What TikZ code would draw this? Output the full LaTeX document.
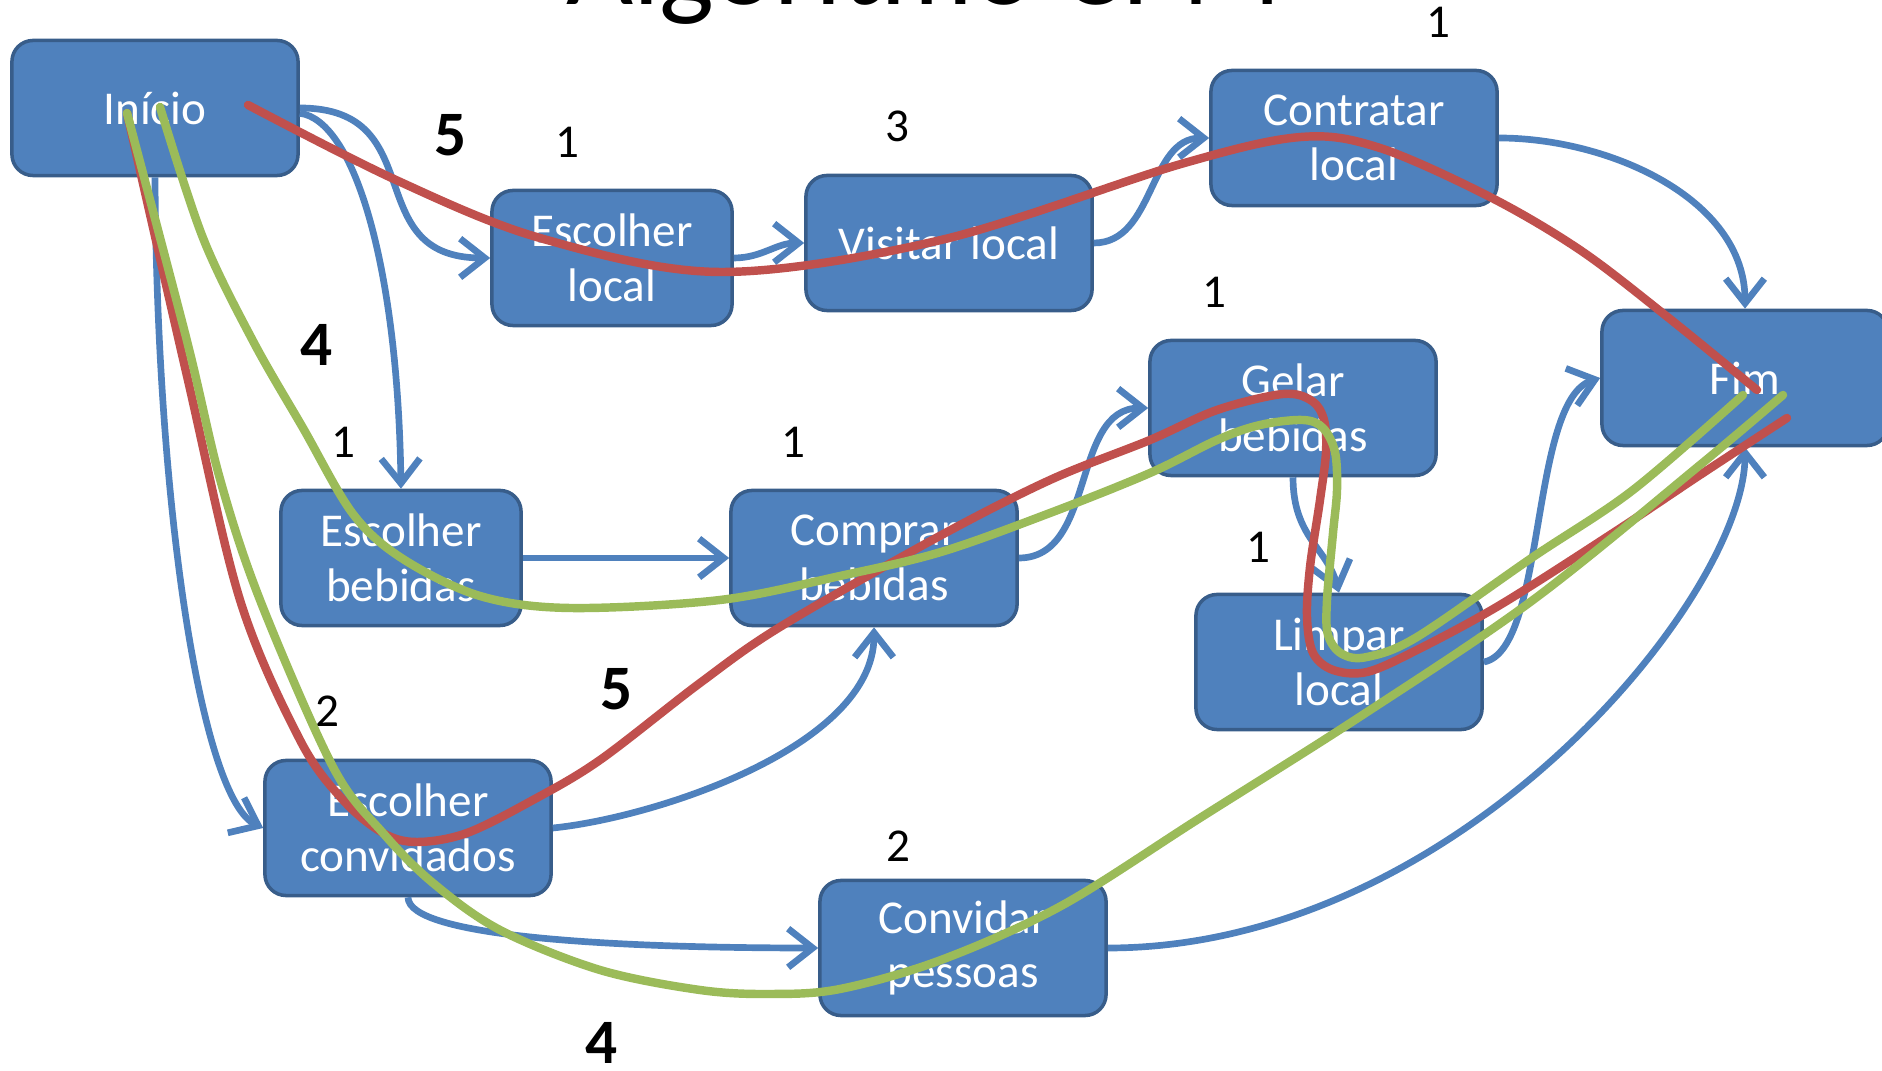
\documentclass[tikz,border=0pt]{standalone}
\usepackage{fontspec}
\setmainfont{Carlito}
\usetikzlibrary{arrows.meta}
\definecolor{azul}{HTML}{4F81BD}
\definecolor{azulEscuro}{HTML}{385D8A}
\definecolor{vermelho}{HTML}{C0504D}
\definecolor{verde}{HTML}{9BBB59}

\begin{document}
\begin{tikzpicture}[x=0.01cm, y=0.01cm,
    tarefa/.style={rounded corners=6pt, draw=azulEscuro, line width=1pt, fill=azul, text=white, align=center,
                   minimum width=2.86cm, minimum height=1.35cm, inner sep=0pt, font=\fontsize{13.4}{15.6}\selectfont},
    estreita/.style={tarefa, minimum width=2.4cm},
    seta/.style={draw=azul, line width=1.9pt, -{Straight Barb[length=7pt,width=11pt]}},
    caminho/.style={line width=2.4pt, line cap=round},
    peso/.style={inner sep=0pt, font=\fontsize{13.4}{16}\selectfont},
    total/.style={inner sep=0pt, font=\fontsize{18}{21}\selectfont\bfseries}]
        \useasboundingbox (0,0) rectangle (1882,-1071);
        \node (titulo) at (924,-5) [anchor=base, font=\fontsize{33}{38}\selectfont] {Algoritmo CPM};

        \node (I)  at ( 155,-108) [tarefa]   {Início};
        \node (EL) at ( 612,-258) [estreita] {Escolher\\local};
        \node (VL) at ( 949,-243) [tarefa]   {Visitar local};
        \node (CL) at (1354,-138) [tarefa]   {Contratar\\local};
        \node (F)  at (1745,-378) [tarefa]   {Fim};
        \node (EB) at ( 401,-558) [estreita] {Escolher\\bebidas};
        \node (CB) at ( 874,-558) [tarefa]   {Comprar\\bebidas};
        \node (GB) at (1293,-408) [tarefa]   {Gelar\\bebidas};
        \node (LL) at (1339,-662) [tarefa]   {Limpar\\local};
        \node (EC) at ( 408,-828) [tarefa]   {Escolher\\convidados};
        \node (CP) at ( 963,-948) [tarefa]   {Convidar\\pessoas};

        % duracoes
        \node (dEL) at ( 567,-142) [peso] {1};
        \node (dVL) at ( 897,-126) [peso] {3};
        \node (dCL) at (1438, -22) [peso] {1};
        \node (dEB) at ( 343,-442) [peso] {1};
        \node (dCB) at ( 793,-442) [peso] {1};
        \node (dGB) at (1214,-292) [peso] {1};
        \node (dLL) at (1258,-547) [peso] {1};
        \node (dEC) at ( 327,-711) [peso] {2};
        \node (dCP) at ( 898,-846) [peso] {2};

        % totais dos caminhos
        \node (tLocal)     at (451,-135)  [total] {5};
        \node (tBebidas)   at (317,-345)  [total] {4};
        \node (tCritico)   at (617,-689)  [total] {5};
        \node (tConvites)  at (602,-1043) [total] {4};

        % I -> EL
        \draw[seta] (I.east) to[out=0, in=180, looseness=1.4] (EL.west);
        % I -> EB
        \draw[seta] ([yshift=-1.5pt]I.east) .. controls +(55,-7) and +(-3,220) .. (EB.north);
        % I -> EC
        \draw[seta] (I.south) .. controls +(2,-343) and +(-60,28) .. (EC.west);
        % EL -> VL
        \draw[seta] (EL.east) to[out=0, in=180] (VL.west);
        % VL -> CL
        \draw[seta] (VL.east) to[out=0, in=180] (CL.west);
        % CL -> F
        \draw[seta] (CL.east) .. controls +(110,0) and +(0,110) .. (F.north);
        % EB -> CB
        \draw[seta] (EB.east) -- (CB.west);
        % CB -> GB
        \draw[seta] (CB.east) to[out=0, in=180] (GB.west);
        % EC -> CB
        \draw[seta] (EC.east) .. controls +(100,10) and +(0,-120) .. (CB.south);
        % EC -> CP
        \draw[seta] (EC.south) .. controls +(0,-40) and +(-200,0) .. (CP.west);
        % CP -> F
        \draw[seta] (CP.east) .. controls +(350,0) and +(0,-150) .. (F.south);
        % GB -> LL
        \draw[seta] (GB.south) .. controls +(0,-60) and +(-12,45) .. (LL.north);
        % LL -> F
        \draw[seta] (LL.east) .. controls +(63,12) and +(-71,-22) .. (F.west);

        % caminho I -> EL -> VL -> CL -> F
        \draw[caminho, vermelho] plot[smooth, tension=0.55] coordinates {
            (248,-105) (396,-180) (540,-238) (720,-272) (941,-240) (1181,-164) (1301,-137)
            (1380,-148) (1490,-197) (1580,-250) (1665,-315) (1757,-390)};
        % caminho I -> EC -> CB -> GB -> LL -> F
        \draw[caminho, vermelho] plot[smooth, tension=0.55] coordinates {
            (127,-113) (187,-376) (240,-600) (300,-740) (343,-800) (383,-833) (417,-842) (467,-833)
            (533,-800) (600,-760) (700,-683) (780,-627) (936,-538) (1050,-480) (1150,-440)
            (1217,-410) (1283,-394) (1312,-401) (1324,-420) (1326,-452) (1320,-500) (1310,-567)
            (1307,-617) (1313,-653) (1333,-670) (1367,-672) (1417,-650) (1500,-605) (1613,-533)
            (1700,-475) (1787,-418)};
        % caminho I -> EB -> CB -> GB -> LL -> F
        \draw[caminho, verde] plot[smooth, tension=0.55] coordinates {
            (160,-107) (203,-238) (253,-341) (303,-428) (353,-514) (403,-559) (480,-596) (570,-608)
            (720,-600) (840,-576) (941,-552) (1050,-513) (1150,-473) (1217,-440) (1260,-425)
            (1303,-420) (1323,-428) (1335,-452) (1337,-490) (1333,-533) (1327,-600) (1328,-635)
            (1342,-654) (1367,-657) (1417,-637) (1533,-557) (1633,-490) (1743,-395)};
        % caminho I -> EC -> CP -> F
        \draw[caminho, verde] plot[smooth, tension=0.55] coordinates {
            (127,-113) (187,-341) (220,-479) (260,-600) (333,-767) (383,-833) (433,-883) (500,-930)
            (600,-970) (700,-990) (770,-994) (840,-989) (941,-960) (1061,-906) (1200,-818)
            (1361,-716) (1533,-600) (1700,-465) (1783,-395)};
    \end{tikzpicture}
\end{document}
